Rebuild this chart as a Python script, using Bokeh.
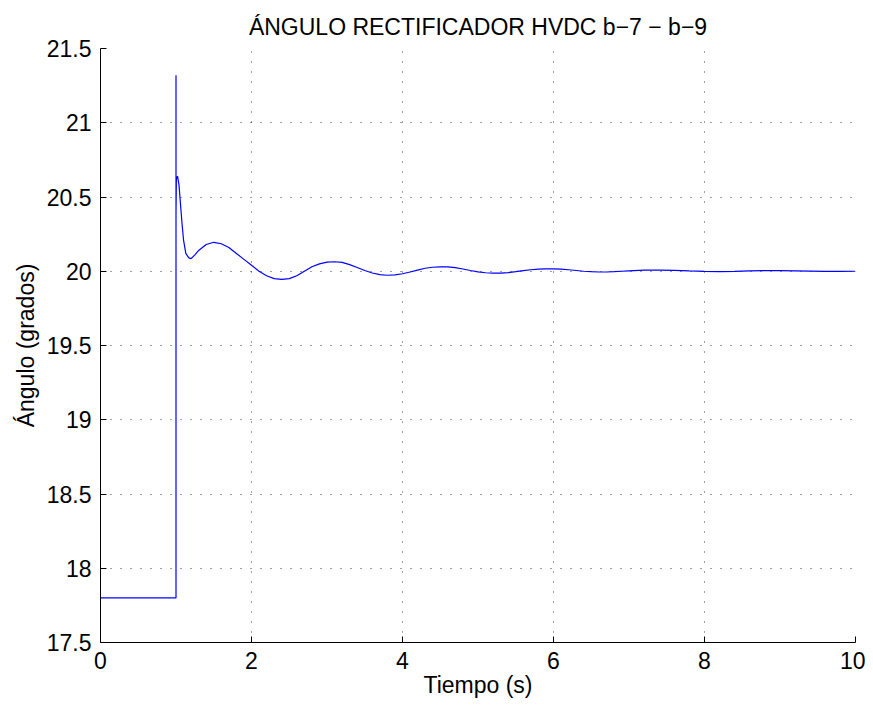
from bokeh.plotting import figure
from bokeh.models import Range1d, FixedTicker
from bokeh.embed import file_html
from bokeh.resources import INLINE

# --- data ---
tiempo = [0.0, 1.0, 1.0, 1.0, 1.005, 1.02, 1.04, 1.06, 1.08, 1.10, 1.13, 1.17, 1.20,
          1.25, 1.30, 1.40, 1.50, 1.60, 1.70, 1.80, 1.90, 2.00, 2.10, 2.20, 2.30,
          2.40, 2.50, 2.60, 2.70, 2.80, 2.90, 3.00, 3.10, 3.20, 3.30, 3.40, 3.50,
          3.60, 3.70, 3.80, 3.90, 4.00, 4.10, 4.20, 4.30, 4.40, 4.50, 4.60, 4.70,
          4.80, 4.90, 5.00, 5.10, 5.20, 5.30, 5.40, 5.50, 5.60, 5.70, 5.80, 5.90,
          6.00, 6.10, 6.20, 6.30, 6.40, 6.50, 6.60, 6.70, 6.80, 6.90, 7.00, 7.20,
          7.40, 7.60, 7.80, 8.00, 8.20, 8.40, 8.60, 8.80, 9.00, 9.20, 9.40, 9.60,
          9.80, 10.0]
angulo = [17.8, 17.8, 21.32, 20.38, 20.62, 20.64, 20.58, 20.45, 20.32, 20.21, 20.12, 20.09, 20.085,
          20.11, 20.14, 20.18, 20.195, 20.185, 20.16, 20.12, 20.08, 20.04, 20.0, 19.97, 19.95,
          19.945, 19.95, 19.97, 20.0, 20.03, 20.05, 20.062, 20.064, 20.06, 20.045, 20.025, 20.005,
          19.988, 19.977, 19.973, 19.975, 19.983, 19.995, 20.008, 20.02, 20.027, 20.03, 20.029, 20.024,
          20.015, 20.005, 19.996, 19.99, 19.988, 19.988, 19.991, 19.997, 20.004, 20.01, 20.014, 20.016,
          20.016, 20.014, 20.01, 20.005, 20.0, 19.997, 19.995, 19.995, 19.997, 20.0, 20.003, 20.007,
          20.008, 20.006, 20.002, 19.999, 19.998, 19.999, 20.002, 20.004, 20.004, 20.003, 20.001, 19.999,
          19.999, 20.0]

xtick_values = [0, 2, 4, 6, 8, 10]
xtick_labels = ["0", "2", "4", "6", "8", "10"]
ytick_values = [17.5, 18.0, 18.5, 19.0, 19.5, 20.0, 20.5, 21.0, 21.5]
ytick_labels = ["17.5", "18", "18.5", "19", "19.5", "20", "20.5", "21", "21.5"]

titulo = "ÁNGULO RECTIFICADOR HVDC b−7 − b−9"
xlabel = "Tiempo (s)"
ylabel = "Ángulo (grados)"

FONT = "Liberation Sans"
FS = "23px"

p = figure(width=865, height=700, output_backend="svg", toolbar_location=None,
           x_range=Range1d(0, 10), y_range=Range1d(17.5, 21.5),
           min_border_left=100, min_border_right=10, min_border_top=48, min_border_bottom=57,
           title=titulo)

p.title.text_font = FONT
p.title.text_font_size = FS
p.title.text_font_style = "normal"
p.title.align = "center"
p.title.text_color = "black"
p.title.standoff = 18

p.line(tiempo, angulo, line_color="#0000ff", line_width=1.2)

p.outline_line_color = None
p.background_fill_color = "white"
p.border_fill_color = "white"

for ax, vals, labs in ((p.xaxis[0], xtick_values, xtick_labels), (p.yaxis[0], ytick_values, ytick_labels)):
    ax.ticker = FixedTicker(ticks=vals)
    ax.major_label_overrides = {v: l for v, l in zip(vals, labs)}
    ax.major_tick_in = 6
    ax.major_tick_out = 0
    ax.minor_tick_line_color = None
    ax.axis_line_color = "black"
    ax.major_tick_line_color = "black"
    ax.major_label_text_font = FONT
    ax.major_label_text_font_size = FS
    ax.major_label_text_color = "black"
    ax.axis_label_text_font = FONT
    ax.axis_label_text_font_size = FS
    ax.axis_label_text_font_style = "normal"
    ax.axis_label_text_color = "black"

p.xaxis.axis_label = xlabel
p.yaxis.axis_label = ylabel
p.xaxis.major_label_standoff = 9
p.xaxis.axis_label_standoff = 0
p.yaxis.major_label_standoff = 9
p.yaxis.axis_label_standoff = 5

for g in (p.xgrid[0], p.ygrid[0]):
    g.grid_line_color = "black"
    g.grid_line_alpha = 0.75
    g.grid_line_dash = "1 9"
    g.grid_line_width = 1

open("out.html", "w").write(file_html(p, INLINE))
